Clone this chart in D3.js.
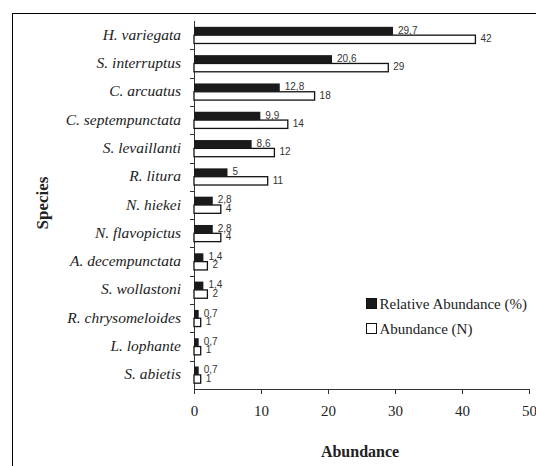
<!DOCTYPE html>
<html>
<head>
<meta charset="utf-8">
<script src="https://cdn.jsdelivr.net/npm/d3@7"></script>
<style>
  body { margin: 0; background: #fff; }
  svg { display: block; }
</style>
</head>
<body>
<div id="chart"></div>
<script>
// Species, top to bottom
const species = [
  "H. variegata", "S. interruptus", "C. arcuatus", "C. septempunctata",
  "S. levaillanti", "R. litura", "N. hiekei", "N. flavopictus",
  "A. decempunctata", "S. wollastoni", "R. chrysomeloides", "L. lophante", "S. abietis"
];
// Relative abundance (%)
const relative = [29.7, 20.6, 12.8, 9.9, 8.6, 5, 2.8, 2.8, 1.4, 1.4, 0.7, 0.7, 0.7];
// Abundance (N)
const counts = [42, 29, 18, 14, 12, 11, 4, 4, 2, 2, 1, 1, 1];
const xTicks = [0, 10, 20, 30, 40, 50];
const seriesNames = ["Relative Abundance (%)", "Abundance (N)"];

const SERIF = '"Liberation Serif", "Times New Roman", Times';
const SANS = '"Liberation Sans", Arial, Helvetica';

const width = 536, height = 466;
const margin = {top: 21, left: 194, right: 7, bottom: 77};

const svg = d3.select("#chart").append("svg")
    .attr("width", width)
    .attr("height", height);

// Outer frame (runs off the right and bottom edges)
svg.append("rect")
    .attr("x", 12.5).attr("y", 13.5)
    .attr("width", 700).attr("height", 700)
    .attr("fill", "none").attr("stroke", "#000").attr("stroke-width", 1);

const data = species.map((s, i) => ({species: s, rel: relative[i], n: counts[i]}));

const x = d3.scaleLinear()
    .domain([0, 50])
    .range([margin.left, width - margin.right]);

const y = d3.scaleBand()
    .domain(species)
    .range([margin.top, height - margin.bottom]);

const sub = d3.scaleBand()
    .domain(["rel", "n"])
    .range([0, y.bandwidth()])
    .paddingOuter(0.7);

// X axis
const xAxis = svg.append("g")
    .attr("transform", `translate(0,${height - margin.bottom})`)
    .call(d3.axisBottom(x).tickValues(xTicks).tickSize(5).tickPadding(11).tickSizeOuter(0))
    .attr("font-family", null)
    .attr("font-size", null);
xAxis.selectAll("text")
    .style("font-family", SERIF)
    .style("font-size", "15px")
    .attr("fill", "#222");
xAxis.selectAll("line, path").attr("stroke", "#333");

// Y axis, ticks sit on band boundaries
const yAxis = svg.append("g").attr("transform", `translate(${margin.left},0)`);
yAxis.append("line")
    .attr("x1", 0.5).attr("x2", 0.5)
    .attr("y1", margin.top).attr("y2", height - margin.bottom)
    .attr("stroke", "#333");
yAxis.selectAll(".yt")
    .data(species.slice(1))
    .join("line")
      .attr("x1", -4).attr("x2", 0.5)
      .attr("y1", d => Math.round(y(d)) + 0.5)
      .attr("y2", d => Math.round(y(d)) + 0.5)
      .attr("stroke", "#333");

svg.append("g").selectAll("text")
    .data(species)
    .join("text")
      .attr("x", 181)
      .attr("y", d => y(d) + y.bandwidth() / 2 + 4.5)
      .attr("text-anchor", "end")
      .style("font-family", SERIF)
      .style("font-style", "italic")
      .style("font-size", "15.5px")
      .attr("fill", "#222")
      .text(d => d);

// Bars
const rows = svg.append("g").selectAll("g")
    .data(data)
    .join("g")
      .attr("transform", d => `translate(0,${y(d.species)})`);

rows.append("rect")
    .attr("x", x(0))
    .attr("y", sub("n"))
    .attr("width", d => x(d.n) - x(0))
    .attr("height", sub.bandwidth())
    .attr("fill", "#fff")
    .attr("stroke", "#111")
    .attr("stroke-width", 1.3);

rows.append("rect")
    .attr("x", x(0))
    .attr("y", sub("rel"))
    .attr("width", d => x(d.rel) - x(0))
    .attr("height", sub.bandwidth())
    .attr("fill", "#1a1a1a");

const fmt = v => String(v).replace(".", ",");

rows.append("text")
    .attr("x", d => x(d.rel) + 5)
    .attr("y", sub("rel") + sub.bandwidth() - 1.5)
    .style("font-family", SANS)
    .style("font-size", "10px")
    .attr("fill", "#333")
    .text(d => fmt(d.rel));

rows.append("text")
    .attr("x", d => x(d.n) + 5)
    .attr("y", sub("n") + sub.bandwidth() - 1.5)
    .style("font-family", SANS)
    .style("font-size", "10px")
    .attr("fill", "#333")
    .text(d => d.n);

// Axis titles
svg.append("text")
    .attr("transform", "translate(48,203) rotate(-90)")
    .attr("text-anchor", "middle")
    .style("font-family", SERIF)
    .style("font-weight", "bold")
    .style("font-size", "17px")
    .attr("fill", "#222")
    .text("Species");

svg.append("text")
    .attr("x", 360).attr("y", 457)
    .attr("text-anchor", "middle")
    .style("font-family", SERIF)
    .style("font-weight", "bold")
    .style("font-size", "16px")
    .attr("fill", "#222")
    .text("Abundance");

// Legend
const legend = svg.append("g").attr("transform", "translate(366,298)");
legend.selectAll("g")
    .data(seriesNames)
    .join("g")
      .attr("transform", (d, i) => `translate(0,${i * 25})`)
      .each(function(d, i) {
        const g = d3.select(this);
        g.append("rect")
          .attr("x", 0.5).attr("y", 0.5)
          .attr("width", 10).attr("height", 10)
          .attr("fill", i === 0 ? "#1a1a1a" : "#fff")
          .attr("stroke", "#111");
        g.append("text")
          .attr("x", 13.5).attr("y", 10.5)
          .style("font-family", SERIF)
          .style("font-size", "15px")
          .attr("fill", "#222")
          .text(d);
      });
</script>
</body>
</html>
